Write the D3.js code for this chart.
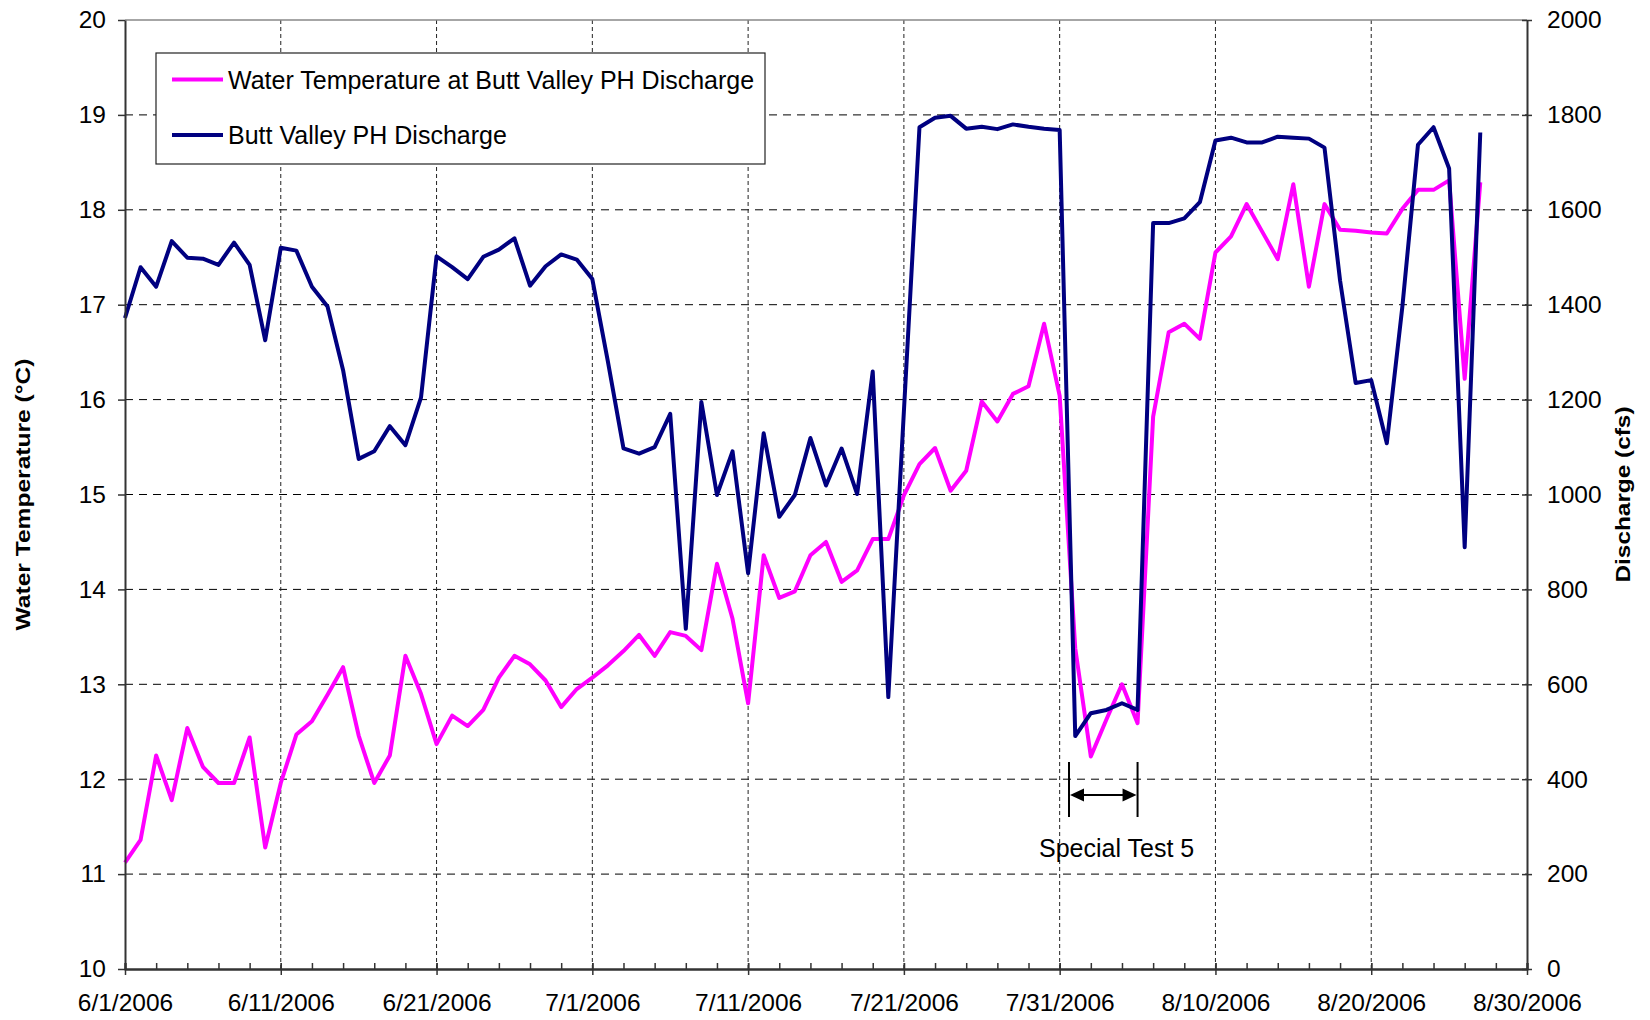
<!DOCTYPE html>
<html>
<head>
<meta charset="utf-8">
<script src="https://cdn.jsdelivr.net/npm/d3@7"></script>
<style>
  body { margin: 0; background: #fff; }
  svg { display: block; font-family: "Liberation Sans", Arial, sans-serif; }
</style>
</head>
<body>
<script>
// daily readings from 6/1/2006
const startDate = new Date(2006, 5, 1);
const endDate = new Date(2006, 7, 30);

// water temperature (°C) at Butt Valley PH discharge
const temperature = [
  11.12, 11.36, 12.25, 11.78, 12.54, 12.13, 11.96, 11.96, 12.44, 11.28,
  11.96, 12.47, 12.61, 12.89, 13.18, 12.46, 11.96, 12.25, 13.30, 12.90,
  12.37, 12.67, 12.56, 12.73, 13.07, 13.30, 13.21, 13.04, 12.76, 12.95,
  13.07, 13.20, 13.35, 13.52, 13.30, 13.55, 13.51, 13.36, 14.27, 13.69,
  12.80, 14.36, 13.91, 13.98, 14.36, 14.50, 14.08, 14.20, 14.53, 14.53,
  14.99, 15.32, 15.49, 15.04, 15.25, 15.98, 15.77, 16.06, 16.14, 16.80,
  16.04, 13.38, 12.24, 12.63, 13.00, 12.59, 15.82, 16.71, 16.80, 16.64,
  17.55, 17.72, 18.06, 17.77, 17.48, 18.27, 17.19, 18.06, 17.79, 17.78,
  17.76, 17.75, 18.01, 18.21, 18.21, 18.31, 16.22, 18.29
];

// Butt Valley PH discharge (cfs)
const discharge = [
  1372, 1479, 1438, 1534, 1499, 1497, 1484, 1531, 1484, 1325,
  1520, 1514, 1438, 1396, 1262, 1075, 1091, 1144, 1104, 1204,
  1502, 1479, 1454, 1501, 1516, 1540, 1440, 1481, 1506, 1495,
  1454, 1280, 1097, 1086, 1100, 1170,  717, 1195,  999, 1091,
   834, 1129,  953,  999, 1119, 1019, 1097, 1001, 1259,  573,
  1175, 1774, 1794, 1798, 1771, 1775, 1770, 1780, 1775, 1771,
  1768,  491,  539,  546,  560,  546, 1572, 1572, 1582, 1616,
  1746, 1752, 1742, 1742, 1754, 1752, 1750, 1731, 1451, 1235,
  1241, 1108, 1396, 1737, 1774, 1687,  889, 1763
];

const tempTicks = [10, 11, 12, 13, 14, 15, 16, 17, 18, 19, 20];
const flowTicks = [0, 200, 400, 600, 800, 1000, 1200, 1400, 1600, 1800, 2000];
const dateTickDays = [0, 10, 20, 30, 40, 50, 60, 70, 80, 90];

const seriesNames = ["Water Temperature at Butt Valley PH Discharge", "Butt Valley PH Discharge"];
const seriesColors = ["#ff00ff", "#000080"];

// special test window, in days after 6/1
const testStartDay = 60.6, testEndDay = 65;
const testLabel = "Special Test 5";

const dayToDate = d => new Date(startDate.getTime() + d * 864e5);

// layout
const W = 1650, H = 1020;
const margin = { top: 20, right: 123, bottom: 51, left: 125 };
const width = W - margin.left - margin.right,
      height = H - margin.top - margin.bottom;

const x = d3.scaleTime().domain([startDate, endDate]).range([0, width]);
const yT = d3.scaleLinear().domain([10, 20]).range([height, 0]);
const yQ = d3.scaleLinear().domain([0, 2000]).range([height, 0]);

const svg = d3.select("body").append("svg")
    .attr("width", W)
    .attr("height", H);

const g = svg.append("g")
    .attr("transform", "translate(" + margin.left + "," + margin.top + ")");

// grid
g.append("g")
  .selectAll("line")
  .data(tempTicks.filter(t => t > 10 && t < 20))
  .enter().append("line")
    .attr("x1", 0).attr("x2", width)
    .attr("y1", d => yT(d)).attr("y2", d => yT(d))
    .attr("stroke", "#000").attr("stroke-width", 1)
    .attr("stroke-dasharray", "8,6");

g.append("g")
  .selectAll("line")
  .data(dateTickDays.filter(d => d > 0 && d < 90))
  .enter().append("line")
    .attr("x1", d => x(dayToDate(d))).attr("x2", d => x(dayToDate(d)))
    .attr("y1", 0).attr("y2", height)
    .attr("stroke", "#222").attr("stroke-width", 1)
    .attr("stroke-dasharray", "4,3");

// top border
g.append("line")
    .attr("x1", 0).attr("x2", width).attr("y1", 0).attr("y2", 0)
    .attr("stroke", "#888").attr("stroke-width", 1.5);

// lines
const tempLine = d3.line()
    .x((d, i) => x(dayToDate(i)))
    .y(d => yT(d));
const flowLine = d3.line()
    .x((d, i) => x(dayToDate(i)))
    .y(d => yQ(d));

g.append("path")
    .datum(temperature)
    .attr("d", tempLine)
    .attr("fill", "none")
    .attr("stroke", seriesColors[0])
    .attr("stroke-width", 4)
    .attr("stroke-linejoin", "round");

g.append("path")
    .datum(discharge)
    .attr("d", flowLine)
    .attr("fill", "none")
    .attr("stroke", seriesColors[1])
    .attr("stroke-width", 4)
    .attr("stroke-linejoin", "round");

// axes
const styleAxis = sel => {
  sel.select(".domain").attr("stroke", "#333").attr("stroke-width", 2);
  sel.selectAll(".tick line").attr("stroke", "#333").attr("stroke-width", 1.5);
  sel.selectAll("text").attr("fill", "#000").style("font-size", "24.5px")
     .style("font-family", "'Liberation Sans', Arial, sans-serif");
};

g.append("g")
    .call(d3.axisLeft(yT).tickValues(tempTicks).tickSize(7).tickSizeOuter(0).tickPadding(12))
    .call(styleAxis);

const right = g.append("g")
    .attr("transform", "translate(" + width + ",0)")
    .call(d3.axisRight(yQ).tickValues(flowTicks).tickSize(5).tickSizeOuter(0).tickPadding(15)
      .tickFormat(d3.format("d")))
    .call(styleAxis);
right.selectAll(".tick line").attr("x1", -5);

// minor day ticks (every 2 days, inside)
g.append("g")
    .attr("transform", "translate(0," + height + ")")
    .call(d3.axisBottom(x).tickValues(d3.range(0, 91, 2).map(dayToDate)).tickSize(-6).tickFormat(""))
    .call(styleAxis);

const fmt = d3.timeFormat("%-m/%-d/%Y");
const bottom = g.append("g")
    .attr("transform", "translate(0," + height + ")")
    .call(d3.axisBottom(x).tickValues(dateTickDays.map(dayToDate)).tickSize(6).tickSizeOuter(0).tickPadding(19).tickFormat(fmt))
    .call(styleAxis);
bottom.selectAll(".tick line").attr("y1", -6);

// axis titles
svg.append("text")
    .attr("transform", "translate(30," + (margin.top + height / 2) + ") rotate(-90)")
    .attr("text-anchor", "middle")
    .attr("textLength", 272)
    .attr("lengthAdjust", "spacingAndGlyphs")
    .style("font-size", "21px")
    .style("font-weight", "bold")
    .text("Water Temperature (°C)");

svg.append("text")
    .attr("transform", "translate(1630," + (margin.top + height / 2) + ") rotate(-90)")
    .attr("text-anchor", "middle")
    .attr("textLength", 176)
    .attr("lengthAdjust", "spacingAndGlyphs")
    .style("font-size", "21px")
    .style("font-weight", "bold")
    .text("Discharge (cfs)");

// legend
const legend = svg.append("g").attr("transform", "translate(156,53)");
legend.append("rect")
    .attr("width", 609).attr("height", 111)
    .attr("fill", "#fff").attr("stroke", "#222").attr("stroke-width", 1.2);
seriesNames.forEach((name, i) => {
  const ly = 26.5 + i * 55.5;
  legend.append("line")
      .attr("x1", 16).attr("x2", 67).attr("y1", ly).attr("y2", ly)
      .attr("stroke", seriesColors[i]).attr("stroke-width", 4);
  legend.append("text")
      .attr("x", 72).attr("y", ly + 9)
      .style("font-size", "25px")
      .text(name);
});

// special test annotation
const xa = x(dayToDate(testStartDay)), xb = x(dayToDate(testEndDay));
const ann = g.append("g");
[xa, xb].forEach(xx => {
  ann.append("line")
      .attr("x1", xx).attr("x2", xx).attr("y1", 742).attr("y2", 797)
      .attr("stroke", "#000").attr("stroke-width", 2);
});
ann.append("line")
    .attr("x1", xa + 12).attr("x2", xb - 12).attr("y1", 775).attr("y2", 775)
    .attr("stroke", "#000").attr("stroke-width", 2);
ann.append("path")
    .attr("d", `M${xa + 1},775 L${xa + 15},768.5 L${xa + 15},781.5 Z`)
    .attr("fill", "#000");
ann.append("path")
    .attr("d", `M${xb - 1},775 L${xb - 15},768.5 L${xb - 15},781.5 Z`)
    .attr("fill", "#000");
ann.append("text")
    .attr("x", xa - 30).attr("y", 837)
    .style("font-size", "25px")
    .text(testLabel);
</script>
</body>
</html>
